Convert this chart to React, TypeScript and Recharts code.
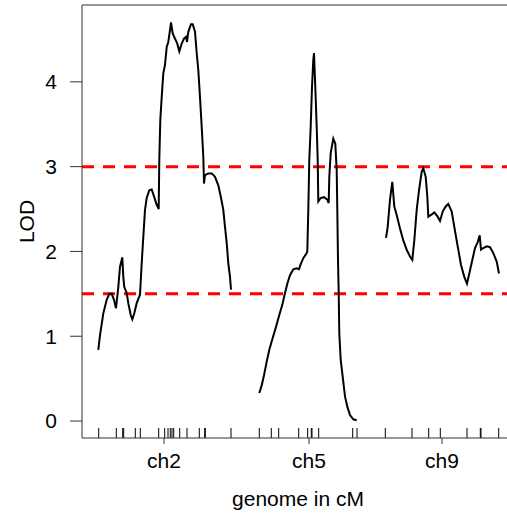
import React from "react";
import { LineChart, Line, XAxis, YAxis, ReferenceLine } from "recharts";

// genome position (cM, concatenated) and LOD score
const chr2Pos = [16.3, 18, 21.3, 24.7, 27.3, 29.7, 32, 34, 36.3, 38, 40.3, 41.3, 42.3, 44.7, 46.3, 48.7, 50.3, 52.3, 54.7, 58, 59.7, 61.3, 63, 64.7, 67.3, 69.7, 72, 74.7, 76.7, 77.3, 78.3, 79.7, 81.3, 83, 84.7, 86.3, 88, 89, 90.7, 93, 95.3, 97.3, 99.7, 102, 104, 105, 106.3, 109, 110.7, 113, 114.7, 116.3, 118, 119.7, 121.3, 122, 123, 126.3, 129.7, 133, 136.3, 138.7, 141.3, 143, 144.7, 146.3, 148, 149];
const chr2Lod = [0.84, 1.01, 1.27, 1.43, 1.5, 1.5, 1.43, 1.33, 1.58, 1.82, 1.93, 1.7, 1.58, 1.51, 1.39, 1.25, 1.2, 1.27, 1.39, 1.49, 1.86, 2.17, 2.49, 2.63, 2.72, 2.73, 2.65, 2.55, 2.5, 3.08, 3.55, 3.82, 4.1, 4.2, 4.41, 4.47, 4.61, 4.7, 4.57, 4.51, 4.45, 4.36, 4.45, 4.51, 4.53, 4.47, 4.59, 4.68, 4.68, 4.59, 4.34, 4.14, 3.82, 3.47, 3.12, 2.8, 2.9, 2.92, 2.92, 2.88, 2.78, 2.65, 2.49, 2.29, 2.1, 1.86, 1.7, 1.55];

const chr5Pos = [177.3, 179.7, 182, 184.7, 187.3, 190.7, 194, 197.3, 200.3, 203, 205.3, 208, 211.3, 214.7, 217, 218.7, 221.3, 224.7, 225.3, 226.3, 227.3, 228.7, 230, 231.3, 232, 233.3, 234.7, 235.7, 236.3, 238.7, 242, 245.3, 246.7, 247.3, 248.7, 251.3, 253.3, 254.7, 255.3, 256, 256.7, 257.3, 258.7, 260.7, 263, 265.3, 268, 271.3, 274.7];
const chr5Lod = [0.33, 0.42, 0.54, 0.7, 0.84, 0.98, 1.11, 1.25, 1.37, 1.51, 1.62, 1.72, 1.79, 1.8, 1.79, 1.85, 1.92, 1.98, 2.0, 2.49, 3.08, 3.47, 3.94, 4.26, 4.34, 3.94, 3.47, 3.08, 2.59, 2.63, 2.64, 2.61, 2.57, 2.88, 3.16, 3.33, 3.27, 2.96, 2.49, 1.9, 1.51, 1.03, 0.72, 0.52, 0.29, 0.17, 0.07, 0.02, 0.01];

const chr9Pos = [304, 305.7, 308, 310.3, 312.3, 314.7, 318, 321.3, 324.7, 328, 330.3, 332.3, 334.7, 337, 339.7, 341.3, 343.7, 345.3, 346.3, 349, 352.3, 355.7, 358, 360.7, 363.7, 366.3, 369.7, 372.3, 375.7, 379, 382.3, 385, 387.3, 390.3, 393, 395.7, 397.7, 399, 401.3, 404.7, 408, 411.3, 414.7, 417];
const chr9Lod = [2.16, 2.29, 2.61, 2.82, 2.53, 2.43, 2.27, 2.13, 2.02, 1.94, 1.9, 2.13, 2.49, 2.72, 2.94, 2.98, 2.88, 2.65, 2.41, 2.43, 2.46, 2.41, 2.36, 2.47, 2.53, 2.56, 2.47, 2.29, 2.06, 1.84, 1.7, 1.62, 1.74, 1.9, 2.04, 2.11, 2.19, 2.02, 2.04, 2.06, 2.05, 1.98, 1.88, 1.74];

const markerPos = [16.7, 34.3, 40.7, 41.7, 53.3, 58.3, 76.7, 82.7, 86, 88.3, 90, 91.7, 97.7, 105, 117.3, 122.7, 123.3, 149, 177.3, 189.3, 196.7, 216.7, 225.7, 229.3, 230, 236.7, 270.7, 275, 303.3, 330, 346.7, 358.3, 385, 398.3, 399, 416.7];

const chrNames = ["ch2", "ch5", "ch9"];
const chrCenters = [82, 227, 360];
const yTicks = [0, 1, 2, 3, 4];
const thresholds = [3, 1.5];

const X_MIN = 0;
const X_MAX = 432;
const Y_MIN = -0.2;
const Y_MAX = 4.906;
const RUG_TOP = -0.082;

const toRows = (xs: number[], ys: number[]) => xs.map((x, i) => ({ x, lod: ys[i] }));
const chr2 = toRows(chr2Pos, chr2Lod);
const chr5 = toRows(chr5Pos, chr5Lod);
const chr9 = toRows(chr9Pos, chr9Lod);

const FONT = "'Liberation Sans', Arial, Helvetica, sans-serif";
const FS = 21;

export default function App() {
  return (
    <div
      style={{
        position: "absolute",
        left: 0,
        top: 0,
        width: 507,
        height: 514,
        overflow: "hidden",
        background: "#fff",
        fontFamily: FONT,
      }}
    >
      <LineChart
        width={524}
        height={514}
        margin={{ top: 5, right: 10, bottom: 0, left: 0 }}
        style={{ fontFamily: FONT }}
      >
        <XAxis
          dataKey="x"
          type="number"
          domain={[X_MIN, X_MAX]}
          allowDataOverflow
          ticks={chrCenters}
          tickFormatter={(v: number) => chrNames[chrCenters.indexOf(v)] ?? ""}
          interval={0}
          height={76}
          tickSize={6}
          tickMargin={9}
          stroke="#333"
          tick={{ fill: "#000", fontSize: FS }}
          axisLine={{ stroke: "#333", strokeWidth: 1 }}
          label={(props: any) => {
            const vb = props.viewBox || { x: 82, y: 438, width: 432, height: 76 };
            return (
              <text
                x={vb.x + vb.width / 2}
                y={vb.y + vb.height - 8}
                textAnchor="middle"
                fontSize={FS}
                fill="#000"
                fontFamily={FONT}
              >
                genome in cM
              </text>
            );
          }}
        />
        <YAxis
          type="number"
          domain={[Y_MIN, Y_MAX]}
          allowDataOverflow
          ticks={yTicks}
          interval={0}
          width={82}
          tickSize={12}
          tickMargin={13}
          stroke="#333"
          tick={{ fill: "#000", fontSize: FS }}
          axisLine={{ stroke: "#333", strokeWidth: 1 }}
          label={(props: any) => {
            const vb = props.viewBox || { x: 0, y: 5, width: 82, height: 433 };
            const cx = 34;
            const cy = vb.y + vb.height / 2;
            return (
              <text
                x={cx}
                y={cy}
                textAnchor="middle"
                fontSize={FS}
                fill="#000"
                fontFamily={FONT}
                transform={`rotate(-90, ${cx}, ${cy})`}
              >
                LOD
              </text>
            );
          }}
        />
        <ReferenceLine y={Y_MAX} stroke="#333" strokeWidth={1} />
        <ReferenceLine x={X_MAX} stroke="#333" strokeWidth={1} />
        {markerPos.map((m, i) => (
          <ReferenceLine
            key={"m" + i}
            segment={[
              { x: m, y: Y_MIN },
              { x: m, y: RUG_TOP },
            ]}
            stroke="#000"
            strokeWidth={1}
          />
        ))}
        {thresholds.map((t) => (
          <ReferenceLine
            key={"t" + t}
            y={t}
            stroke="#ff0000"
            strokeWidth={3}
            strokeDasharray="12 9"
          />
        ))}
        <Line data={chr2} dataKey="lod" type="linear" stroke="#000" strokeWidth={2} dot={false} isAnimationActive={false} />
        <Line data={chr5} dataKey="lod" type="linear" stroke="#000" strokeWidth={2} dot={false} isAnimationActive={false} />
        <Line data={chr9} dataKey="lod" type="linear" stroke="#000" strokeWidth={2} dot={false} isAnimationActive={false} />
      </LineChart>
    </div>
  );
}
